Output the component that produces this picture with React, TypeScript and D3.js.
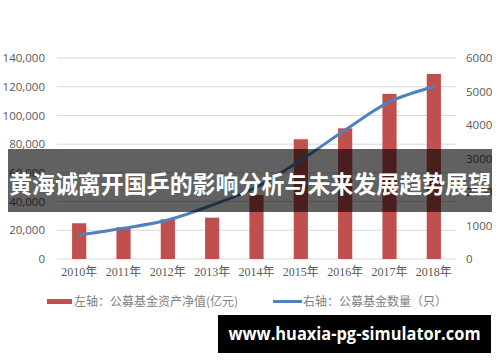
import { useRef, useEffect } from "react";
import {
  select,
  scaleBand,
  scaleLinear,
  axisLeft,
  axisRight,
  axisBottom,
  line,
  curveCatmullRom,
} from "d3";

//data
const years = ["2010年", "2011年", "2012年", "2013年", "2014年", "2015年", "2016年", "2017年", "2018年"];
const netAssets = [24900, 22100, 27700, 28800, 44600, 83400, 91000, 115000, 128900];
const fundCount = [716, 916, 1164, 1610, 2150, 2950, 3850, 4690, 5140];
const leftTicks = [0, 20000, 40000, 60000, 80000, 100000, 120000, 140000];
const rightTicks = [0, 1000, 2000, 3000, 4000, 5000, 6000];
const legendLabels = ["左轴：公募基金资产净值(亿元)", "右轴：公募基金数量（只）"];
const title = "黄海诚离开国乒的影响分析与未来发展趋势展望";
const watermark = "www.huaxia-pg-simulator.com";

const W = 500;
const H = 362;
const cjk = "'Noto Sans CJK SC', sans-serif";

const App = () => {
  const svgRef = useRef<SVGSVGElement>(null);

  useEffect(() => {
    const svg = select(svgRef.current);
    svg.selectAll("*").remove();

    //scales
    const x = scaleBand<string>().domain(years).range([57, 456]).paddingInner(0.68).paddingOuter(0.34);
    const yL = scaleLinear().domain([0, 140000]).range([259, 58]);
    const yR = scaleLinear().domain([0, 6000]).range([259, 58]);

    //gridlines
    svg
      .append("g")
      .selectAll("line")
      .data(leftTicks)
      .join("line")
      .attr("x1", 57)
      .attr("x2", 456)
      .attr("y1", (d) => yL(d))
      .attr("y2", (d) => yL(d))
      .attr("stroke", "#d9d9d9")
      .attr("stroke-width", 1);

    //left axis
    const gl = svg
      .append("g")
      .attr("transform", "translate(49,0)")
      .call(axisLeft(yL).tickValues(leftTicks).tickSize(0).tickPadding(4).tickFormat((d) => (d as number).toLocaleString("en-US")));
    gl.select(".domain").remove();
    gl.selectAll("text").attr("fill", "#595959").style("font-family", "'Open Sans', sans-serif").style("font-size", "11.5px");

    //right axis
    const gr = svg
      .append("g")
      .attr("transform", "translate(462,0)")
      .call(axisRight(yR).tickValues(rightTicks).tickSize(0).tickPadding(4).tickFormat((d) => String(d)));
    gr.select(".domain").remove();
    gr.selectAll("text").attr("fill", "#595959").style("font-family", "'Open Sans', sans-serif").style("font-size", "11.5px");

    //bottom axis
    const gb = svg
      .append("g")
      .attr("transform", "translate(0,259)")
      .call(axisBottom(x).tickSize(0).tickPadding(8));
    gb.select(".domain").remove();
    gb.selectAll("text").attr("fill", "#595959").style("font-family", "'Liberation Serif', " + cjk).style("font-size", "12px");

    //bars
    svg
      .append("g")
      .selectAll("rect")
      .data(netAssets)
      .join("rect")
      .attr("x", (_, i) => x(years[i])!)
      .attr("width", x.bandwidth())
      .attr("y", (d) => yL(d))
      .attr("height", (d) => 259 - yL(d))
      .attr("fill", "#c0504d");

    //line
    const myLine = line<number>()
      .x((_, i) => x(years[i])! + x.bandwidth() / 2)
      .y((d) => yR(d))
      .curve(curveCatmullRom);
    svg
      .append("path")
      .datum(fundCount)
      .attr("d", myLine)
      .attr("fill", "none")
      .attr("stroke", "#4f81bd")
      .attr("stroke-width", 3)
      .attr("stroke-linecap", "round");

    //legend
    const lg = svg.append("g").style("font-family", cjk).style("font-size", "12px").attr("fill", "#7f7f7f");
    lg.append("rect").attr("x", 47).attr("y", 299).attr("width", 25).attr("height", 5).attr("fill", "#c0504d");
    lg.append("text").attr("x", 74).attr("y", 306).text(legendLabels[0]);
    lg.append("line").attr("x1", 273).attr("x2", 302).attr("y1", 301.5).attr("y2", 301.5).attr("stroke", "#4f81bd").attr("stroke-width", 3);
    lg.append("text").attr("x", 303).attr("y", 306).text(legendLabels[1]);

    //title banner
    svg.append("rect").attr("x", 8).attr("y", 149).attr("width", 484).attr("height", 63).attr("fill", "rgba(0,0,0,0.62)");
    svg
      .append("text")
      .attr("x", 250)
      .attr("y", 193)
      .attr("text-anchor", "middle")
      .attr("fill", "#fff")
      .style("font-family", cjk)
      .style("font-weight", "bold")
      .style("font-size", "24px")
      .attr("textLength", 482)
      .attr("lengthAdjust", "spacingAndGlyphs")
      .text(title);

    //watermark
    svg.append("rect").attr("x", 218).attr("y", 315).attr("width", 273).attr("height", 38).attr("fill", "#000");
    svg
      .append("text")
      .attr("x", 354.5)
      .attr("y", 340)
      .attr("text-anchor", "middle")
      .attr("fill", "#fff")
      .style("font-family", "'Open Sans', sans-serif")
      .style("font-weight", "bold")
      .style("font-size", "17px")
      .attr("textLength", 252)
      .attr("lengthAdjust", "spacingAndGlyphs")
      .text(watermark);
  }, []);

  return (
    <svg
      ref={svgRef}
      width={W}
      height={H}
      viewBox={`0 0 ${W} ${H}`}
      style={{ position: "absolute", left: 0, top: 0, background: "#fff" }}
    ></svg>
  );
};

export default App;
